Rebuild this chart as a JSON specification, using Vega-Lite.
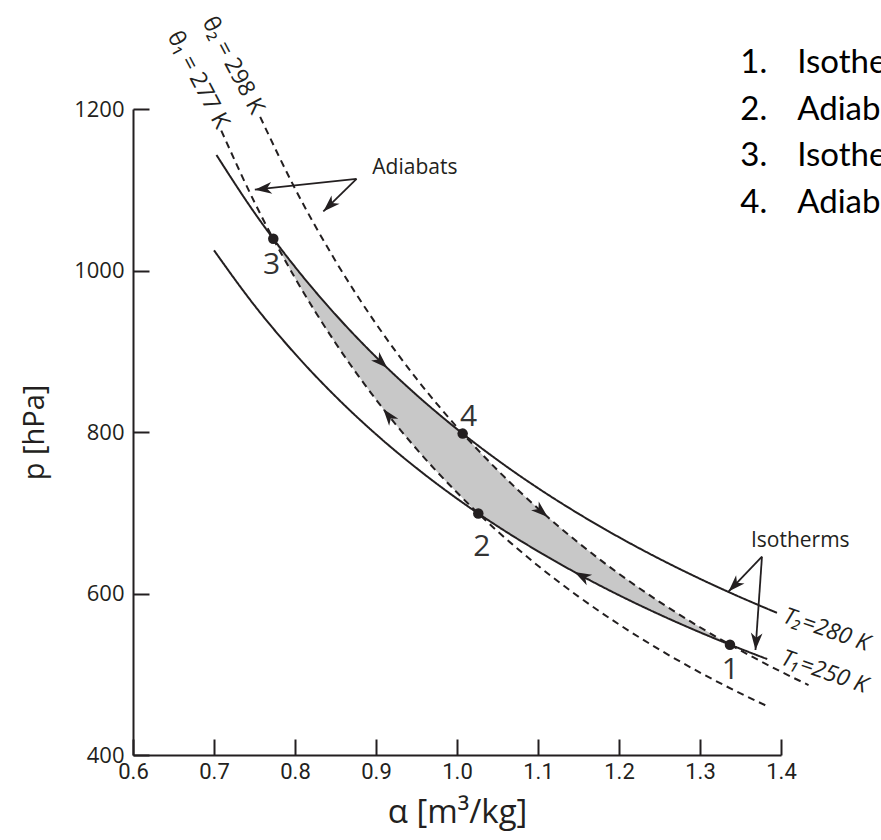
{
  "$schema": "https://vega.github.io/schema/vega-lite/v6.json",
  "width": 648,
  "height": 646,
  "autosize": {"type": "none"},
  "padding": {"left": 133, "top": 109, "right": 100, "bottom": 85},
  "background": "white",
  "config": {"view": {"stroke": null}, "font": "Open Sans"},
  "datasets": {
    "curves": [
      {"curve": "T2", "kind": "isotherm", "alpha": 0.703, "p": 1143.1},
      {"curve": "T2", "kind": "isotherm", "alpha": 0.75, "p": 1071.5},
      {"curve": "T2", "kind": "isotherm", "alpha": 0.8, "p": 1004.5},
      {"curve": "T2", "kind": "isotherm", "alpha": 0.85, "p": 945.4},
      {"curve": "T2", "kind": "isotherm", "alpha": 0.9, "p": 892.9},
      {"curve": "T2", "kind": "isotherm", "alpha": 0.95, "p": 845.9},
      {"curve": "T2", "kind": "isotherm", "alpha": 1.0, "p": 803.6},
      {"curve": "T2", "kind": "isotherm", "alpha": 1.05, "p": 765.3},
      {"curve": "T2", "kind": "isotherm", "alpha": 1.1, "p": 730.5},
      {"curve": "T2", "kind": "isotherm", "alpha": 1.15, "p": 698.8},
      {"curve": "T2", "kind": "isotherm", "alpha": 1.2, "p": 669.7},
      {"curve": "T2", "kind": "isotherm", "alpha": 1.25, "p": 642.9},
      {"curve": "T2", "kind": "isotherm", "alpha": 1.3, "p": 618.2},
      {"curve": "T2", "kind": "isotherm", "alpha": 1.35, "p": 595.3},
      {"curve": "T2", "kind": "isotherm", "alpha": 1.395, "p": 576.1},
      {"curve": "T1", "kind": "isotherm", "alpha": 0.7, "p": 1025.0},
      {"curve": "T1", "kind": "isotherm", "alpha": 0.75, "p": 956.7},
      {"curve": "T1", "kind": "isotherm", "alpha": 0.8, "p": 896.9},
      {"curve": "T1", "kind": "isotherm", "alpha": 0.85, "p": 844.1},
      {"curve": "T1", "kind": "isotherm", "alpha": 0.9, "p": 797.2},
      {"curve": "T1", "kind": "isotherm", "alpha": 0.95, "p": 755.3},
      {"curve": "T1", "kind": "isotherm", "alpha": 1.0, "p": 717.5},
      {"curve": "T1", "kind": "isotherm", "alpha": 1.05, "p": 683.3},
      {"curve": "T1", "kind": "isotherm", "alpha": 1.1, "p": 652.3},
      {"curve": "T1", "kind": "isotherm", "alpha": 1.15, "p": 623.9},
      {"curve": "T1", "kind": "isotherm", "alpha": 1.2, "p": 597.9},
      {"curve": "T1", "kind": "isotherm", "alpha": 1.25, "p": 574.0},
      {"curve": "T1", "kind": "isotherm", "alpha": 1.3, "p": 551.9},
      {"curve": "T1", "kind": "isotherm", "alpha": 1.35, "p": 531.5},
      {"curve": "T1", "kind": "isotherm", "alpha": 1.383, "p": 518.8},
      {"curve": "th1", "kind": "adiabat", "alpha": 0.709, "p": 1173.3},
      {"curve": "th1", "kind": "adiabat", "alpha": 0.75, "p": 1084.5},
      {"curve": "th1", "kind": "adiabat", "alpha": 0.8, "p": 990.8},
      {"curve": "th1", "kind": "adiabat", "alpha": 0.85, "p": 910.2},
      {"curve": "th1", "kind": "adiabat", "alpha": 0.9, "p": 840.2},
      {"curve": "th1", "kind": "adiabat", "alpha": 0.95, "p": 779.0},
      {"curve": "th1", "kind": "adiabat", "alpha": 1.0, "p": 725.0},
      {"curve": "th1", "kind": "adiabat", "alpha": 1.05, "p": 677.1},
      {"curve": "th1", "kind": "adiabat", "alpha": 1.1, "p": 634.4},
      {"curve": "th1", "kind": "adiabat", "alpha": 1.15, "p": 596.2},
      {"curve": "th1", "kind": "adiabat", "alpha": 1.2, "p": 561.7},
      {"curve": "th1", "kind": "adiabat", "alpha": 1.25, "p": 530.5},
      {"curve": "th1", "kind": "adiabat", "alpha": 1.3, "p": 502.1},
      {"curve": "th1", "kind": "adiabat", "alpha": 1.35, "p": 476.3},
      {"curve": "th1", "kind": "adiabat", "alpha": 1.383, "p": 460.5},
      {"curve": "th2", "kind": "adiabat", "alpha": 0.757, "p": 1190.2},
      {"curve": "th2", "kind": "adiabat", "alpha": 0.8, "p": 1101.5},
      {"curve": "th2", "kind": "adiabat", "alpha": 0.85, "p": 1011.9},
      {"curve": "th2", "kind": "adiabat", "alpha": 0.9, "p": 934.1},
      {"curve": "th2", "kind": "adiabat", "alpha": 0.95, "p": 866.0},
      {"curve": "th2", "kind": "adiabat", "alpha": 1.0, "p": 806.0},
      {"curve": "th2", "kind": "adiabat", "alpha": 1.05, "p": 752.8},
      {"curve": "th2", "kind": "adiabat", "alpha": 1.1, "p": 705.3},
      {"curve": "th2", "kind": "adiabat", "alpha": 1.15, "p": 662.8},
      {"curve": "th2", "kind": "adiabat", "alpha": 1.2, "p": 624.4},
      {"curve": "th2", "kind": "adiabat", "alpha": 1.25, "p": 589.7},
      {"curve": "th2", "kind": "adiabat", "alpha": 1.3, "p": 558.2},
      {"curve": "th2", "kind": "adiabat", "alpha": 1.35, "p": 529.5},
      {"curve": "th2", "kind": "adiabat", "alpha": 1.4, "p": 503.2},
      {"curve": "th2", "kind": "adiabat", "alpha": 1.434, "p": 486.6}
    ],
    "shade": [
      {"alpha": 0.7732, "upper": 1039.3, "lower": 1039.3},
      {"alpha": 0.8, "upper": 1004.5, "lower": 990.8},
      {"alpha": 0.85, "upper": 945.4, "lower": 910.2},
      {"alpha": 0.9, "upper": 892.9, "lower": 840.2},
      {"alpha": 0.95, "upper": 845.9, "lower": 779.0},
      {"alpha": 1.0, "upper": 803.6, "lower": 725.0},
      {"alpha": 1.007, "upper": 798.0, "lower": 718.0},
      {"alpha": 1.0263, "upper": 777.2, "lower": 699.1},
      {"alpha": 1.05, "upper": 752.8, "lower": 683.3},
      {"alpha": 1.1, "upper": 705.3, "lower": 652.3},
      {"alpha": 1.15, "upper": 662.8, "lower": 623.9},
      {"alpha": 1.2, "upper": 624.4, "lower": 597.9},
      {"alpha": 1.25, "upper": 589.7, "lower": 574.0},
      {"alpha": 1.3, "upper": 558.2, "lower": 551.9},
      {"alpha": 1.337, "upper": 536.7, "lower": 536.6}
    ],
    "pointers": [
      {"id": "a1", "alpha": 0.876, "p": 1113.4},
      {"id": "a1", "alpha": 0.7504, "p": 1100.1},
      {"id": "a2", "alpha": 0.876, "p": 1113.4},
      {"id": "a2", "alpha": 0.835, "p": 1073.2},
      {"id": "i1", "alpha": 1.3765, "p": 645.7},
      {"id": "i1", "alpha": 1.3352, "p": 602.4},
      {"id": "i2", "alpha": 1.3765, "p": 645.7},
      {"id": "i2", "alpha": 1.3685, "p": 530.1}
    ],
    "heads": [
      {"alpha": 0.7504, "p": 1100.1, "heading": 264},
      {"alpha": 0.835, "p": 1073.2, "heading": 226},
      {"alpha": 1.3352, "p": 602.4, "heading": 224},
      {"alpha": 1.3685, "p": 530.1, "heading": 184},
      {"alpha": 0.914, "p": 879.2, "heading": 134},
      {"alpha": 0.909, "p": 828.6, "heading": 322},
      {"alpha": 1.112, "p": 694.7, "heading": 131},
      {"alpha": 1.145, "p": 626.6, "heading": 298}
    ],
    "states": [
      {"n": "1", "alpha": 1.337, "p": 536.6, "la": 1.3374, "lp": 505},
      {"n": "2", "alpha": 1.0263, "p": 699.1, "la": 1.0305, "lp": 658},
      {"n": "3", "alpha": 0.7732, "p": 1039.3, "la": 0.771, "lp": 1007},
      {"n": "4", "alpha": 1.007, "p": 798.0, "la": 1.0142, "lp": 819}
    ],
    "notes": [
      {"text": "Adiabats", "alpha": 0.948, "p": 1127},
      {"text": "Isotherms", "alpha": 1.4238, "p": 665.2}
    ],
    "thetas": [
      {"text": "θ₁ = 277 K", "alpha": 0.6805, "p": 1236},
      {"text": "θ₂ = 298 K", "alpha": 0.7235, "p": 1254}
    ],
    "temps": [
      {"text": "T₂=280 K", "alpha": 1.456, "p": 554.9},
      {"text": "T₁=250 K", "alpha": 1.4535, "p": 502.9}
    ],
    "steps": [
      {"num": "1.", "text": "Isothermal compression", "p": 1244.7},
      {"num": "2.", "text": "Adiabatic compression", "p": 1186.9},
      {"num": "3.", "text": "Isothermal expansion", "p": 1129.0},
      {"num": "4.", "text": "Adiabatic expansion", "p": 1071.2}
    ]
  },
  "layer": [
    {
      "data": {"name": "shade"},
      "mark": {"type": "area", "color": "#c8c8c8", "interpolate": "monotone"},
      "encoding": {
        "x": {"field": "alpha", "type": "quantitative", "scale": {"domain": [0.6, 1.4], "nice": false, "zero": false},
          "axis": {"values": [0.6, 0.7, 0.8, 0.9, 1.0, 1.1, 1.2, 1.3, 1.4], "format": ".1f", "grid": false,
            "tickSize": -16, "tickWidth": 2, "tickColor": "#231f20", "domainWidth": 2, "domainColor": "#231f20",
            "labelFont": "Roboto, sans-serif", "labelFontSize": 22, "labelColor": "#231f20", "labelPadding": 22,
            "labelFlush": false, "labelOverlap": false,
            "title": "α [m³/kg]", "titleFont": "Open Sans", "titleFontSize": 33, "titleFontWeight": "normal",
            "titleColor": "#231f20", "titlePadding": 14}},
        "y": {"field": "upper", "type": "quantitative", "scale": {"domain": [400, 1200], "nice": false, "zero": false},
          "axis": {"values": [400, 600, 800, 1000, 1200], "format": "d", "grid": false,
            "tickSize": -16, "tickWidth": 2, "tickColor": "#231f20", "domainWidth": 2, "domainColor": "#231f20",
            "labelFont": "Open Sans", "labelFontSize": 22, "labelColor": "#231f20", "labelPadding": 25,
            "labelFlush": false, "labelOverlap": false,
            "title": "p [hPa]", "titleFont": "Open Sans", "titleFontSize": 29, "titleFontWeight": "normal",
            "titleColor": "#231f20", "titlePadding": 24}},
        "y2": {"field": "lower"}
      }
    },
    {
      "data": {"name": "curves"},
      "mark": {"type": "line", "color": "#231f20", "strokeWidth": 2, "interpolate": "monotone"},
      "encoding": {
        "x": {"field": "alpha", "type": "quantitative"},
        "y": {"field": "p", "type": "quantitative"},
        "detail": {"field": "curve"},
        "strokeDash": {"field": "kind", "type": "nominal", "legend": null,
          "scale": {"domain": ["isotherm", "adiabat"], "range": [[1, 0], [7, 5]]}}
      }
    },
    {
      "data": {"name": "pointers"},
      "mark": {"type": "line", "color": "#231f20", "strokeWidth": 1.8},
      "encoding": {
        "x": {"field": "alpha", "type": "quantitative"},
        "y": {"field": "p", "type": "quantitative"},
        "detail": {"field": "id"}
      }
    },
    {
      "data": {"name": "heads"},
      "mark": {"type": "point", "filled": true, "color": "#231f20", "opacity": 1, "shape": "M0,0L-0.55,1.6L0,1.15L0.55,1.6Z", "size": 450},
      "encoding": {
        "x": {"field": "alpha", "type": "quantitative"},
        "y": {"field": "p", "type": "quantitative"},
        "angle": {"field": "heading", "type": "quantitative", "scale": null}
      }
    },
    {
      "data": {"name": "states"},
      "mark": {"type": "circle", "color": "#231f20", "opacity": 1, "size": 110},
      "encoding": {
        "x": {"field": "alpha", "type": "quantitative"},
        "y": {"field": "p", "type": "quantitative"}
      }
    },
    {
      "data": {"name": "states"},
      "mark": {"type": "text", "font": "Open Sans", "fontSize": 30, "color": "#333333", "align": "center", "baseline": "middle"},
      "encoding": {
        "x": {"field": "la", "type": "quantitative"},
        "y": {"field": "lp", "type": "quantitative"},
        "text": {"field": "n"}
      }
    },
    {
      "data": {"name": "notes"},
      "mark": {"type": "text", "font": "Open Sans", "fontSize": 21, "color": "#231f20", "align": "center", "baseline": "middle"},
      "encoding": {
        "x": {"field": "alpha", "type": "quantitative"},
        "y": {"field": "p", "type": "quantitative"},
        "text": {"field": "text"}
      }
    },
    {
      "data": {"name": "thetas"},
      "mark": {"type": "text", "font": "Open Sans", "fontSize": 23, "color": "#231f20", "align": "center", "baseline": "middle", "angle": 62},
      "encoding": {
        "x": {"field": "alpha", "type": "quantitative"},
        "y": {"field": "p", "type": "quantitative"},
        "text": {"field": "text"}
      }
    },
    {
      "data": {"name": "temps"},
      "mark": {"type": "text", "font": "Open Sans", "fontSize": 23, "fontStyle": "italic", "color": "#231f20", "align": "center", "baseline": "middle", "angle": 19},
      "encoding": {
        "x": {"field": "alpha", "type": "quantitative"},
        "y": {"field": "p", "type": "quantitative"},
        "text": {"field": "text"}
      }
    },
    {
      "data": {"name": "steps"},
      "mark": {"type": "text", "font": "Lato", "fontSize": 33, "color": "#000000", "align": "left", "baseline": "alphabetic"},
      "encoding": {
        "x": {"datum": 1.3497, "type": "quantitative"},
        "y": {"field": "p", "type": "quantitative"},
        "text": {"field": "num"}
      }
    },
    {
      "data": {"name": "steps"},
      "mark": {"type": "text", "font": "Lato", "fontSize": 33, "color": "#000000", "align": "left", "baseline": "alphabetic"},
      "encoding": {
        "x": {"datum": 1.42, "type": "quantitative"},
        "y": {"field": "p", "type": "quantitative"},
        "text": {"field": "text"}
      }
    }
  ]
}
